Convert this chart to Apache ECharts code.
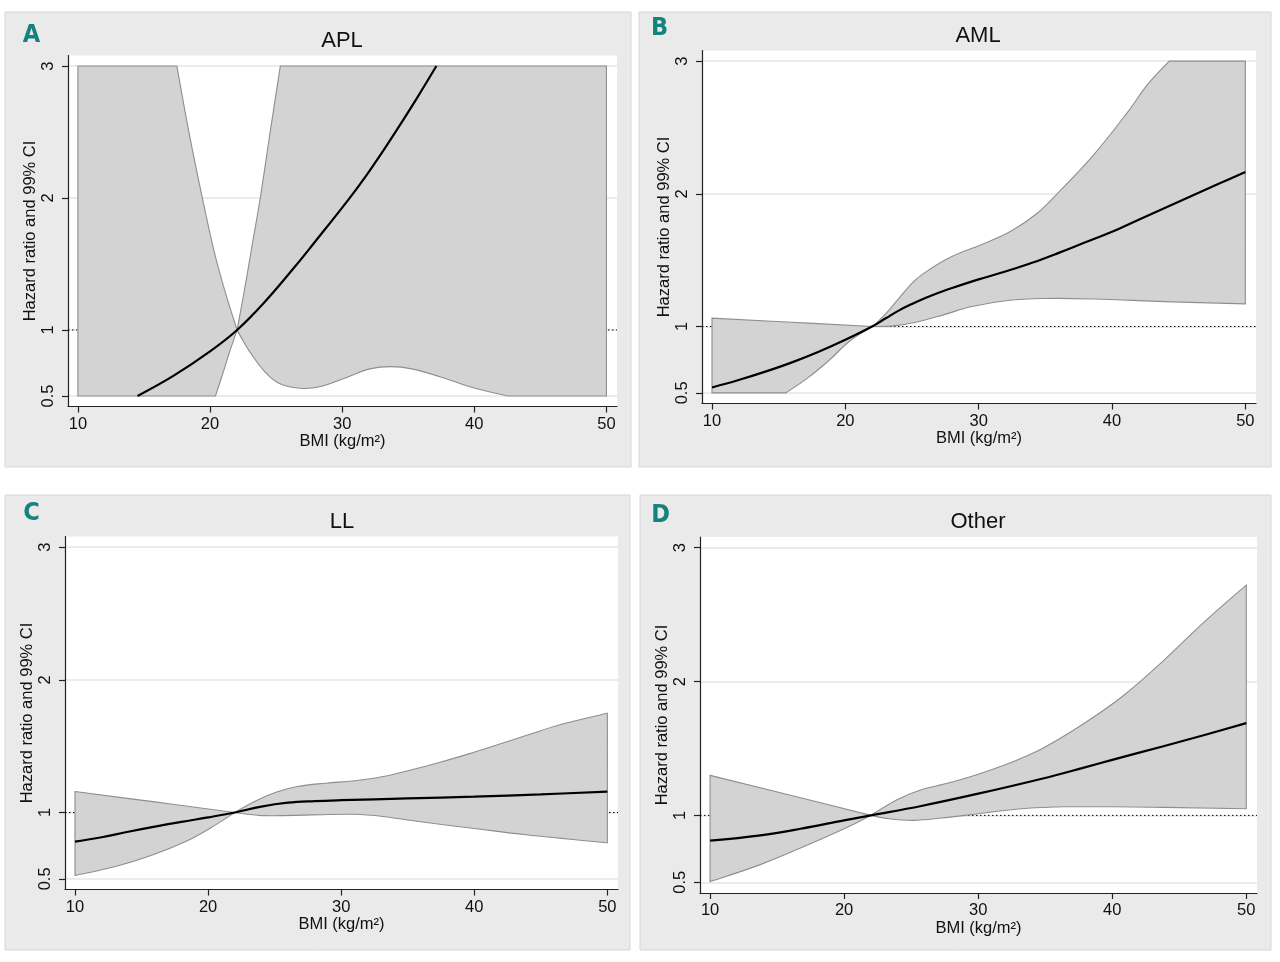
<!DOCTYPE html>
<html><head><meta charset="utf-8">
<script src="https://cdn.jsdelivr.net/npm/echarts@6/dist/echarts.min.js"></script>
<style>html,body{margin:0;padding:0;background:#fff}#c{width:1280px;height:962px}</style>
</head><body><div id="c"></div>
<script>
// ---- data ----
const bmiTicks = [10, 20, 30, 40, 50];
const hrTicks = [0.5, 1, 2, 3];
const bmiRange = [9.25, 50.8];
const hrRange = [0.42, 3.08];
const refHR = 1;
const panelTitles = ['APL', 'AML', 'LL', 'Other'];
const panelLetters = ['A', 'B', 'C', 'D'];
const xTitle = 'BMI (kg/m\u00B2)';
const yTitle = 'Hazard ratio and 99% CI';

// APL
const aplEstimate = [[14.51,0.5],[17.22,0.652],[20,0.838],[22.05,1.0],[24.12,1.21],[26.51,1.49],[27.84,1.655],[30.49,1.99],[31.82,2.17],[33.15,2.365],[34.48,2.57],[35.8,2.78],[37.13,3.0]];
const aplUpper = [[10,3],[17.49,3],[18.4,2.5],[19.42,2.0],[20.3,1.6],[21.2,1.27],[22.05,1.0],[22.6,1.3],[23.2,1.65],[23.8,2.0],[24.55,2.5],[25.32,3.0],[50,3]];
const aplLower = [[10,0.5],[20.41,0.5],[20.95,0.665],[21.5,0.84],[22.05,1.0],[22.53,0.912],[23.06,0.826],[24.12,0.687],[25.18,0.598],[26.78,0.558],[28.37,0.571],[30.49,0.646],[32.09,0.705],[33.68,0.722],[35.27,0.705],[37.4,0.646],[40.05,0.558],[42.57,0.5],[50,0.5]];
// AML
const amlEstimate = [[10,0.541],[12,0.597],[14,0.66],[16,0.73],[18,0.81],[20,0.9],[22,1.0],[23,1.06],[24,1.12],[25,1.17],[26,1.215],[27,1.255],[28,1.29],[30,1.355],[32,1.415],[34,1.48],[36,1.555],[38,1.635],[40,1.715],[42,1.805],[44,1.895],[46,1.985],[48,2.075],[50,2.165]];
const amlUpper = [[10,1.063],[16,1.032],[22.04,1.0],[23.06,1.1],[24.13,1.226],[25.2,1.346],[26.27,1.427],[27.88,1.522],[30.56,1.632],[32.44,1.72],[34.32,1.848],[35.92,2.004],[38.61,2.292],[41.29,2.631],[42.63,2.819],[44.3,3],[50,3]];
const amlLower = [[10,0.5],[15.55,0.5],[17.16,0.611],[18.77,0.744],[20.38,0.895],[22.04,1.0],[23.59,1.005],[25.2,1.03],[27.35,1.088],[29.49,1.151],[32.17,1.196],[34.85,1.211],[38.61,1.208],[43.97,1.188],[50,1.171]];
// LL
const llEstimate = [[10,0.781],[12,0.814],[14,0.855],[16,0.894],[18,0.93],[20,0.963],[22,1.0],[24,1.045],[26,1.074],[28,1.086],[30,1.093],[35,1.106],[40,1.12],[45,1.137],[50,1.157]];
const llUpper = [[10,1.158],[16,1.08],[22,1.0],[23.49,1.083],[25.1,1.153],[26.71,1.196],[28.86,1.221],[31,1.239],[33.15,1.271],[35.3,1.322],[37.44,1.379],[39.59,1.442],[41.73,1.51],[43.88,1.58],[46.56,1.665],[50,1.748]];
const llLower = [[10,0.525],[13.03,0.593],[15.71,0.676],[18.4,0.786],[20.27,0.889],[22,1.0],[24.03,0.977],[27.78,0.982],[31,0.987],[33.15,0.97],[35.83,0.932],[39.86,0.882],[43.88,0.832],[50,0.772]];
// Other
const otherEstimate = [[10,0.811],[13.75,0.851],[16.75,0.9],[20,0.963],[22,1.0],[25.75,1.07],[30,1.162],[34.75,1.274],[37.75,1.353],[40,1.415],[43.75,1.515],[46.75,1.597],[50,1.689]];
const otherUpper = [[10,1.299],[16,1.15],[22,1.0],[23.95,1.117],[25.75,1.192],[27.55,1.236],[30.01,1.308],[32.35,1.391],[34.75,1.498],[37.75,1.677],[40.75,1.888],[43.75,2.149],[46.75,2.435],[50,2.721]];
const otherLower = [[10,0.505],[13.75,0.632],[16.75,0.756],[20,0.9],[22,1.0],[23.35,0.975],[25.15,0.963],[27.25,0.98],[30,1.012],[33.25,1.05],[36.25,1.065],[40,1.065],[43.75,1.06],[50,1.05]];

// ---- layout ----
const panelData = [
  { est: aplEstimate, upper: aplUpper, lower: aplLower },
  { est: amlEstimate, upper: amlUpper, lower: amlLower },
  { est: llEstimate, upper: llUpper, lower: llLower },
  { est: otherEstimate, upper: otherUpper, lower: otherLower }
];
const layout = [
  { bg: [5, 12, 626, 455], grid: { left: 68, top: 55.5, width: 549, height: 351 }, title: [342, 41], letter: [31.5, 35] },
  { bg: [639, 12, 632, 455], grid: { left: 702, top: 50.5, width: 554, height: 353 }, title: [978, 36], letter: [659.5, 28.5] },
  { bg: [5, 495, 625, 455], grid: { left: 65, top: 536.5, width: 553, height: 353 }, title: [342, 522], letter: [31.5, 513] },
  { bg: [640, 495, 631, 455], grid: { left: 700, top: 537, width: 557, height: 356 }, title: [978, 522], letter: [660.5, 515.5] }
];

const FONT = 'Liberation Sans, Arial, Helvetica, sans-serif';
const grids = [], xAxes = [], yAxes = [], series = [], graphics = [];

// smooth closed path through pixel points, keeping sharp corners (big turns, ends of flat clipped runs)
function smoothClosedPath(pts) {
  const n = pts.length, k = 0.38, corner = 28 * Math.PI / 180;
  const outC = [], inC = [];
  for (let i = 0; i < n; i++) {
    const p = pts[i], a = pts[(i - 1 + n) % n], b = pts[(i + 1) % n];
    const v1 = [p[0] - a[0], p[1] - a[1]], v2 = [b[0] - p[0], b[1] - p[1]];
    const d1 = Math.hypot(v1[0], v1[1]) || 1e-6, d2 = Math.hypot(v2[0], v2[1]) || 1e-6;
    const ang = Math.acos(Math.max(-1, Math.min(1, (v1[0] * v2[0] + v1[1] * v2[1]) / (d1 * d2))));
    const flat = Math.abs(v1[1]) < 0.01 || Math.abs(v2[1]) < 0.01 || Math.abs(v1[0]) < 0.01 || Math.abs(v2[0]) < 0.01;
    if (ang > corner || flat) {
      outC.push([p[0] + v2[0] * k * 0.5, p[1] + v2[1] * k * 0.5]);
      inC.push([p[0] - v1[0] * k * 0.5, p[1] - v1[1] * k * 0.5]);
    } else {
      const v = [b[0] - a[0], b[1] - a[1]], s = d1 + d2;
      outC.push([p[0] + v[0] * d2 / s * k, p[1] + v[1] * d2 / s * k]);
      inC.push([p[0] - v[0] * d1 / s * k, p[1] - v[1] * d1 / s * k]);
    }
  }
  let d = 'M' + pts[0][0] + ' ' + pts[0][1];
  for (let i = 0; i < n; i++) {
    const j = (i + 1) % n;
    d += ' C' + outC[i][0] + ' ' + outC[i][1] + ' ' + inC[j][0] + ' ' + inC[j][1] + ' ' + pts[j][0] + ' ' + pts[j][1];
  }
  return d + ' Z';
}

layout.forEach((L, i) => {
  const P = panelData[i];
  graphics.push({
    type: 'rect', z: -10,
    shape: { x: L.bg[0], y: L.bg[1], width: L.bg[2], height: L.bg[3] },
    style: { fill: '#eaeaea', stroke: '#d6d6d6', lineWidth: 1 }
  });
  graphics.push({
    type: 'text', z: 100, x: L.title[0], y: L.title[1],
    style: { text: panelTitles[i], fill: '#111', font: '22px ' + FONT, textAlign: 'center', textVerticalAlign: 'middle' }
  });
  graphics.push({
    type: 'text', z: 100, x: L.letter[0], y: L.letter[1],
    style: { text: panelLetters[i], fill: '#14837e', font: 'bold 25px "DejaVu Sans Condensed", "Liberation Sans Narrow", sans-serif', textAlign: 'center', textVerticalAlign: 'middle' }
  });

  grids.push(Object.assign({ show: true, backgroundColor: '#ffffff', borderWidth: 0, containLabel: false }, L.grid));
  xAxes.push({
    type: 'value', gridIndex: i, min: bmiRange[0], max: bmiRange[1],
    name: xTitle, nameLocation: 'middle', nameGap: 24,
    nameTextStyle: { fontFamily: FONT, fontSize: 16.5, color: '#111' },
    axisLine: { show: true, onZero: false, lineStyle: { color: '#222', width: 1.2 } },
    axisTick: { show: true, length: 6, customValues: bmiTicks, lineStyle: { color: '#222', width: 1.2 } },
    axisLabel: { customValues: bmiTicks, margin: 9, fontFamily: FONT, fontSize: 16.5, color: '#111' },
    splitLine: { show: false }
  });
  yAxes.push({
    type: 'value', gridIndex: i, min: hrRange[0], max: hrRange[1],
    name: yTitle, nameLocation: 'middle', nameGap: 25, nameRotate: 90,
    nameTextStyle: { fontFamily: FONT, fontSize: 16.5, color: '#111' },
    axisLine: { show: true, onZero: false, lineStyle: { color: '#222', width: 1.2 } },
    axisTick: { show: true, length: 6, customValues: hrTicks, lineStyle: { color: '#222', width: 1.2 } },
    axisLabel: { customValues: hrTicks, rotate: 90, margin: 11, fontFamily: FONT, fontSize: 16.5, color: '#111' },
    splitLine: { show: true, lineStyle: { color: '#e6e6e6', width: 1.5 } }
  });

  // reference line at HR = 1
  series.push({
    type: 'line', xAxisIndex: i, yAxisIndex: i, z: 1, silent: true, showSymbol: false, animation: false,
    data: [[bmiRange[0], refHR], [bmiRange[1], refHR]],
    lineStyle: { color: '#000', width: 1, type: [1.5, 2.5] }
  });
  // CI band (upper bound left→right, lower bound right→left)
  const poly = P.upper.concat(P.lower.slice().reverse());
  series.push({
    type: 'custom', xAxisIndex: i, yAxisIndex: i, z: 2, silent: true, animation: false,
    data: poly, encode: { x: 0, y: 1 },
    renderItem: function (params, api) {
      if (params.dataIndex !== 0) return null;
      const pts = poly.map(p => api.coord(p));
      return { type: 'path', shape: { pathData: smoothClosedPath(pts) }, style: { fill: '#d3d3d3', stroke: '#8e8e8e', lineWidth: 1.1 } };
    }
  });
  // point estimate
  series.push({
    type: 'line', xAxisIndex: i, yAxisIndex: i, z: 3, silent: true, showSymbol: false, animation: false,
    smooth: 0.4, data: P.est,
    lineStyle: { color: '#000', width: 2.2 }
  });
});

const chart = echarts.init(document.getElementById('c'), null, { renderer: 'canvas' });
chart.setOption({
  animation: false,
  backgroundColor: '#ffffff',
  graphic: graphics,
  grid: grids, xAxis: xAxes, yAxis: yAxes, series: series
});
</script></body></html>
